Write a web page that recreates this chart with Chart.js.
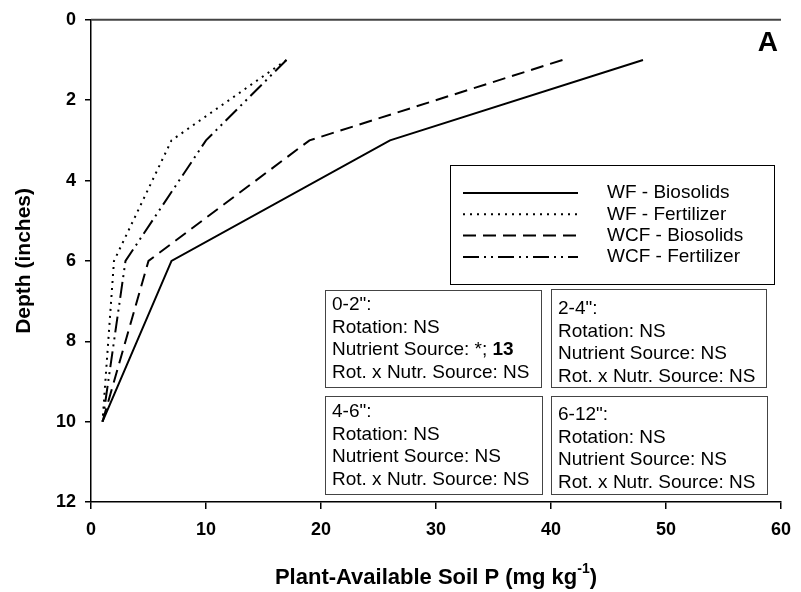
<!DOCTYPE html>
<html>
<head>
<meta charset="utf-8">
<script src="https://cdn.jsdelivr.net/npm/chart.js@4"></script>
<style>
  html, body { margin: 0; padding: 0; background: #fff; }
  #wrap { width: 801px; height: 592px; }
</style>
</head>
<body>
<div id="wrap"><canvas id="soilChart" width="801" height="592"></canvas></div>
<script>
// depths (inches) where soil P was sampled
const depths = [1, 3, 6, 10];

// plant-available soil P (mg/kg) per treatment
const wfBiosolids = [48, 26, 7, 1];
const wfFertilizer = [17, 7, 2, 1];
const wcfBiosolids = [41, 19, 5, 1];
const wcfFertilizer = [17, 10, 3, 1];

const seriesNames = ['WF - Biosolids', 'WF - Fertilizer', 'WCF - Biosolids', 'WCF - Fertilizer'];
const xTicks = [0, 10, 20, 30, 40, 50, 60];
const yTicks = [0, 2, 4, 6, 8, 10, 12];

// stats boxes text
const statsTopLeft = ['0-2":', 'Rotation: NS', 'Nutrient Source: *; 13', 'Rot. x Nutr. Source: NS'];
const statsTopRight = ['2-4":', 'Rotation: NS', 'Nutrient Source: NS', 'Rot. x Nutr. Source: NS'];
const statsBottomLeft = ['4-6":', 'Rotation: NS', 'Nutrient Source: NS', 'Rot. x Nutr. Source: NS'];
const statsBottomRight = ['6-12":', 'Rotation: NS', 'Nutrient Source: NS', 'Rot. x Nutr. Source: NS'];

const dashes = [[], [2, 5], [13, 7], [16, 5, 2, 5, 2, 5]];
const allSeries = [wfBiosolids, wfFertilizer, wcfBiosolids, wcfFertilizer];

const toPoints = vals => vals.map((v, i) => ({ x: v, y: depths[i] }));

const FONT = 'Arial, "Liberation Sans", sans-serif';

// draws the extra bits: top line, legend box, stats boxes, panel letter, axis titles
const extras = {
  id: 'extras',
  afterDraw(chart) {
    const ctx = chart.ctx;
    const area = chart.chartArea;
    ctx.save();

    // top frame line
    ctx.strokeStyle = '#444';
    ctx.lineWidth = 2;
    ctx.beginPath();
    ctx.moveTo(area.left, area.top);
    ctx.lineTo(area.right, area.top);
    ctx.stroke();

    // legend box
    ctx.strokeStyle = '#000';
    ctx.lineWidth = 1;
    ctx.strokeRect(450.5, 165.5, 324, 119);
    ctx.font = '19px ' + FONT;
    ctx.fillStyle = '#000';
    ctx.textBaseline = 'middle';
    chart.data.datasets.forEach((ds, i) => {
      const y = 193 + i * 21.3;
      ctx.save();
      ctx.lineWidth = 2;
      ctx.setLineDash(ds.borderDash);
      ctx.beginPath();
      ctx.moveTo(463, y);
      ctx.lineTo(578, y);
      ctx.stroke();
      ctx.restore();
      ctx.fillText(ds.label, 607, y);
    });

    // stats boxes
    const boxes = [
      { x: 325, y: 290, w: 216, h: 97, off: 15, lines: statsTopLeft },
      { x: 551, y: 289, w: 215, h: 98, off: 20, lines: statsTopRight },
      { x: 325, y: 396, w: 217, h: 98, off: 16, lines: statsBottomLeft },
      { x: 551, y: 396, w: 216, h: 98, off: 19, lines: statsBottomRight }
    ];
    boxes.forEach(b => {
      ctx.fillStyle = '#fff';
      ctx.fillRect(b.x, b.y, b.w, b.h);
      ctx.strokeStyle = '#444';
      ctx.lineWidth = 1;
      ctx.strokeRect(b.x + 0.5, b.y + 0.5, b.w, b.h);
      ctx.fillStyle = '#000';
      b.lines.forEach((t, j) => {
        const ty = b.y + b.off + j * 22.6;
        if (t.indexOf('*; 13') >= 0) {
          // bold "13" at the end
          const head = t.replace('13', '');
          ctx.font = '19px ' + FONT;
          ctx.fillText(head, b.x + 7, ty);
          const w = ctx.measureText(head).width;
          ctx.font = 'bold 19px ' + FONT;
          ctx.fillText('13', b.x + 7 + w, ty);
        } else {
          ctx.font = '19px ' + FONT;
          ctx.fillText(t, b.x + 7, ty);
        }
      });
    });

    // panel letter
    ctx.font = 'bold 28px ' + FONT;
    ctx.textAlign = 'right';
    ctx.fillText('A', 778, 43);

    // x axis title with superscript
    ctx.textAlign = 'left';
    const main = 'Plant-Available Soil P (mg kg';
    ctx.font = 'bold 22px ' + FONT;
    const wMain = ctx.measureText(main).width;
    ctx.font = 'bold 14px ' + FONT;
    const wSup = ctx.measureText('-1').width;
    ctx.font = 'bold 22px ' + FONT;
    const wEnd = ctx.measureText(')').width;
    let tx = (area.left + area.right) / 2 - (wMain + wSup + wEnd) / 2;
    const ty = 578;
    ctx.fillText(main, tx, ty);
    tx += wMain;
    ctx.font = 'bold 14px ' + FONT;
    ctx.fillText('-1', tx, ty - 9);
    tx += wSup;
    ctx.font = 'bold 22px ' + FONT;
    ctx.fillText(')', tx, ty);

    // y axis title
    ctx.translate(24, (area.top + area.bottom) / 2);
    ctx.rotate(-Math.PI / 2);
    ctx.textAlign = 'center';
    ctx.font = 'bold 21px ' + FONT;
    ctx.fillText('Depth (inches)', 0, 0);

    ctx.restore();
  }
};

new Chart(document.getElementById('soilChart'), {
  type: 'scatter',
  data: {
    datasets: allSeries.map((vals, i) => ({
      label: seriesNames[i],
      data: toPoints(vals),
      showLine: true,
      borderColor: '#000',
      backgroundColor: '#000',
      borderWidth: 2,
      borderDash: dashes[i],
      pointRadius: 0,
      tension: 0
    }))
  },
  options: {
    responsive: false,
    animation: false,
    devicePixelRatio: 1,
    layout: { padding: { top: 15, right: 13, left: 0, bottom: 0 } },
    plugins: { legend: { display: false }, tooltip: { enabled: false } },
    scales: {
      x: {
        type: 'linear',
        min: 0,
        max: 60,
        afterBuildTicks: s => { s.ticks = xTicks.map(v => ({ value: v })); },
        afterFit: s => { s.height = 90; },
        ticks: { color: '#000', font: { family: FONT, size: 18, weight: 'bold' }, padding: 10 },
        grid: { drawOnChartArea: false, color: '#000', lineWidth: 1.5, tickLength: 7 },
        border: { color: '#000', width: 1.5 }
      },
      y: {
        type: 'linear',
        reverse: true,
        min: 0,
        max: 12,
        afterBuildTicks: s => { s.ticks = yTicks.map(v => ({ value: v })); },
        afterFit: s => { s.width = 91; },
        ticks: { color: '#000', font: { family: FONT, size: 18, weight: 'bold' }, padding: 9 },
        grid: { drawOnChartArea: false, color: '#000', lineWidth: 1.5, tickLength: 6 },
        border: { color: '#000', width: 1.5 }
      }
    }
  },
  plugins: [extras]
});
</script>
</body>
</html>
